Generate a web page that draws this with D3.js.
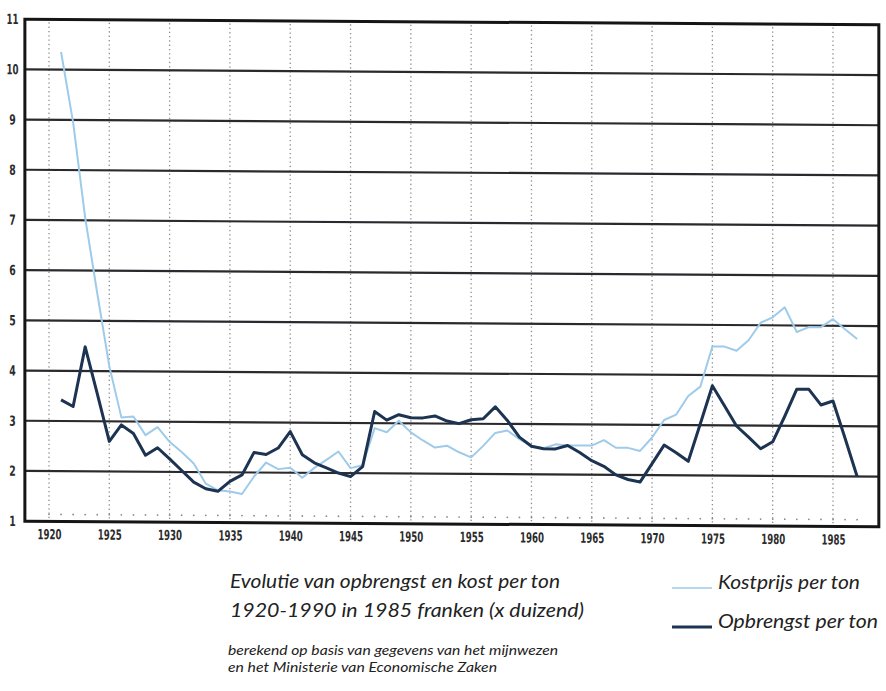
<!DOCTYPE html>
<html>
<head>
<meta charset="utf-8">
<script src="https://cdn.jsdelivr.net/npm/d3@7/dist/d3.min.js"></script>
<style>
  body { margin: 0; background: #ffffff; }
  svg { display: block; }
</style>
</head>
<body>
<svg id="chart" width="886" height="691"></svg>
<script>
// ---------------- DATA ----------------
const years = d3.range(1921, 1988); // 1921 .. 1987

const kostprijs = [
  10.35, 8.95, 7.05, 5.55, 4.10, 3.08, 3.10, 2.73, 2.89, 2.60,   // 1921-1930
  2.40, 2.17, 1.77, 1.64, 1.62, 1.57, 1.92, 2.20, 2.07, 2.10,    // 1931-1940
  1.90, 2.10, 2.26, 2.43, 2.10, 2.16, 2.90, 2.82, 3.05, 2.82,    // 1941-1950
  2.66, 2.52, 2.56, 2.43, 2.33, 2.56, 2.82, 2.87, 2.70, 2.56,    // 1951-1960
  2.52, 2.60, 2.58, 2.58, 2.58, 2.69, 2.54, 2.54, 2.48, 2.75,    // 1961-1970
  3.10, 3.21, 3.58, 3.77, 4.57, 4.57, 4.49, 4.70, 5.05, 5.16,    // 1971-1980
  5.36, 4.87, 4.97, 4.97, 5.13, 4.93, 4.74                       // 1981-1987
];

const opbrengst = [
  3.42, 3.29, 4.48, 3.55, 2.60, 2.93, 2.76, 2.33, 2.48, 2.26,    // 1921-1930
  2.03, 1.80, 1.67, 1.62, 1.82, 1.95, 2.40, 2.36, 2.49, 2.82,    // 1931-1940
  2.36, 2.20, 2.10, 2.00, 1.93, 2.13, 3.23, 3.06, 3.17, 3.11,    // 1941-1950
  3.11, 3.15, 3.05, 3.00, 3.08, 3.10, 3.34, 3.07, 2.74, 2.56,    // 1951-1960
  2.51, 2.51, 2.58, 2.44, 2.28, 2.17, 2.00, 1.91, 1.86, 2.23,    // 1961-1970
  2.60, 2.45, 2.28, 3.03, 3.79, 3.39, 2.99, 2.77, 2.54, 2.68,    // 1971-1980
  3.19, 3.73, 3.73, 3.42, 3.50, 2.76, 2.00                       // 1981-1987
];

const yTickValues = [1, 2, 3, 4, 5, 6, 7, 8, 9, 10, 11];
const gridValues = [2, 3, 4, 5, 6, 7, 8, 9, 10];
const xTickValues = [1920, 1925, 1930, 1935, 1940, 1945, 1950, 1955, 1960, 1965, 1970, 1975, 1980, 1985];
const minorYears = d3.range(1920, 1988);

const seriesNames = ["Kostprijs per ton", "Opbrengst per ton"];
const captionLines = [
  "Evolutie van opbrengst en kost per ton",
  "1920-1990 in 1985 franken (x duizend)"
];
const sourceLines = [
  "berekend op basis van gegevens van het mijnwezen",
  "en het Ministerie van Economische Zaken"
];

// ---------------- LAYOUT ----------------
const frameYears = [1918, 1988.8];
const xScale = d3.scaleLinear().domain([1920, 1985]).range([49, 833]);
const yScale = d3.scaleLinear().domain([1, 11]).range([521, 19]);

const LIGHT = "#9ecbe9";
const DARK = "#1c3352";
const GRID = "#2a2a2e";
const labelFont = "'DejaVu Sans','Liberation Sans',sans-serif";
const textFont = "Lato, 'Noto Sans', 'Open Sans', sans-serif";

const svg = d3.select("#chart");
// the scanned original is slightly skewed
const g = svg.append("g").attr("transform", "skewY(0.38)");

const fLeft = xScale(frameYears[0]), fRight = xScale(frameYears[1]);
const fTop = yScale(11), fBottom = yScale(1);

// vertical dotted lines every 5 years
g.append("g").selectAll("line")
  .data(xTickValues)
  .join("line")
  .attr("x1", d => xScale(d)).attr("x2", d => xScale(d))
  .attr("y1", fTop + 3).attr("y2", fBottom - 3)
  .attr("stroke", "#8c8c8c")
  .attr("stroke-width", 1.3)
  .attr("stroke-dasharray", "1.3 3");

// small dots every year along the bottom
g.append("g").selectAll("circle")
  .data(minorYears)
  .join("circle")
  .attr("cx", d => xScale(d))
  .attr("cy", yScale(1) - 7)
  .attr("r", 0.9)
  .attr("fill", "#8a8a8a");

// horizontal gridlines
g.append("g").selectAll("line")
  .data(gridValues)
  .join("line")
  .attr("x1", fLeft).attr("x2", fRight)
  .attr("y1", d => yScale(d)).attr("y2", d => yScale(d))
  .attr("stroke", GRID)
  .attr("stroke-width", 2.2);

// series lines
const line = d3.line()
  .x((d, i) => xScale(years[i]))
  .y(d => yScale(d));

g.append("path")
  .datum(kostprijs)
  .attr("d", line)
  .attr("fill", "none")
  .attr("stroke", LIGHT)
  .attr("stroke-width", 2)
  .attr("stroke-linejoin", "round");

g.append("path")
  .datum(opbrengst)
  .attr("d", line)
  .attr("fill", "none")
  .attr("stroke", DARK)
  .attr("stroke-width", 3)
  .attr("stroke-linejoin", "round");

// frame
g.append("rect")
  .attr("x", fLeft).attr("y", fTop)
  .attr("width", fRight - fLeft).attr("height", fBottom - fTop)
  .attr("fill", "none")
  .attr("stroke", "#151515")
  .attr("stroke-width", 3);

// axes (labels only)
const xAxis = g.append("g")
  .attr("transform", `translate(0,${fBottom})`)
  .call(d3.axisBottom(xScale).tickValues(xTickValues).tickFormat(d3.format("d")).tickSize(0).tickPadding(8));
xAxis.select(".domain").remove();
xAxis.selectAll("text")
  .attr("font-family", labelFont)
  .attr("font-size", 14)
  .attr("font-weight", "bold")
  .attr("fill", "#2b2b2b")
  .attr("textLength", 24)
  .attr("lengthAdjust", "spacingAndGlyphs");

const yAxis = g.append("g")
  .attr("transform", `translate(${fLeft},0)`)
  .call(d3.axisLeft(yScale).tickValues(yTickValues).tickFormat(d3.format("d")).tickSize(0));
yAxis.select(".domain").remove();
yAxis.selectAll("text")
  .attr("text-anchor", "middle")
  .attr("x", -12.5)
  .attr("font-family", labelFont)
  .attr("font-size", 14)
  .attr("font-weight", "bold")
  .attr("fill", "#2b2b2b")
  .each(function(d) {
    if (d >= 10) d3.select(this).attr("textLength", 12).attr("lengthAdjust", "spacingAndGlyphs");
    else d3.select(this).attr("textLength", 6.5).attr("lengthAdjust", "spacingAndGlyphs");
  });

// caption
const capBase = [588, 617];
const capLen = [330, 354];
svg.append("g").selectAll("text")
  .data(captionLines)
  .join("text")
  .attr("x", 230)
  .attr("y", (d, i) => capBase[i])
  .attr("font-family", textFont)
  .attr("font-style", "italic")
  .attr("font-size", 19)
  .attr("fill", "#222")
  .attr("textLength", (d, i) => capLen[i])
  .attr("lengthAdjust", "spacingAndGlyphs")
  .text(d => d);

const srcBase = [655, 672];
const srcLen = [330, 269];
svg.append("g").selectAll("text")
  .data(sourceLines)
  .join("text")
  .attr("x", 228)
  .attr("y", (d, i) => srcBase[i])
  .attr("font-family", textFont)
  .attr("font-style", "italic")
  .attr("font-size", 12.5)
  .attr("fill", "#222")
  .attr("textLength", (d, i) => srcLen[i])
  .attr("lengthAdjust", "spacingAndGlyphs")
  .text(d => d);

// legend
const legY = [588, 627];
const legLen = [142, 160];
const legColor = [LIGHT, DARK];
const legWidth = [1.6, 3];
const leg = svg.append("g").selectAll("g")
  .data(seriesNames)
  .join("g");
leg.append("line")
  .attr("x1", 672).attr("x2", 712)
  .attr("y1", (d, i) => legY[i]).attr("y2", (d, i) => legY[i])
  .attr("stroke", (d, i) => legColor[i])
  .attr("stroke-width", (d, i) => legWidth[i]);
leg.append("text")
  .attr("x", 718)
  .attr("y", (d, i) => legY[i] + 1)
  .attr("font-family", textFont)
  .attr("font-style", "italic")
  .attr("font-size", 19)
  .attr("fill", "#222")
  .attr("textLength", (d, i) => legLen[i])
  .attr("lengthAdjust", "spacingAndGlyphs")
  .text(d => d);
</script>
</body>
</html>
